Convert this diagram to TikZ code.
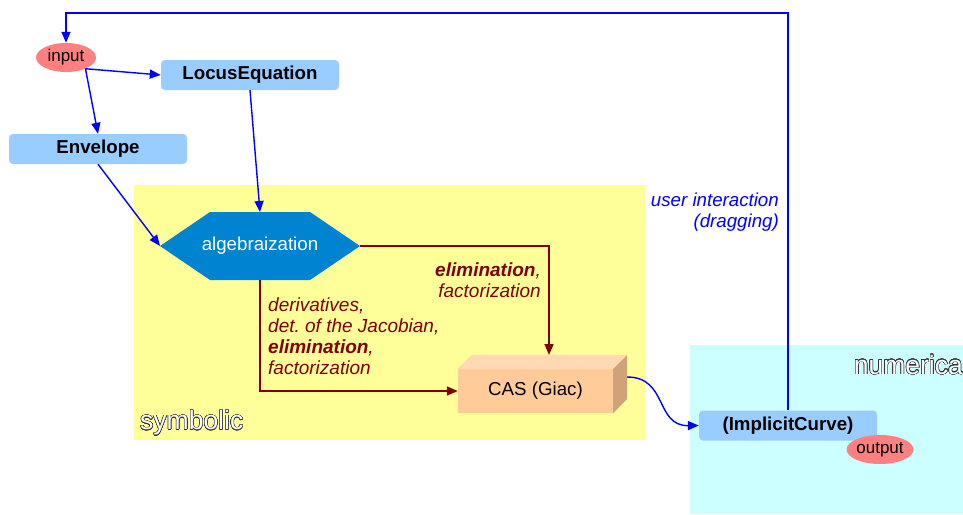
\documentclass[tikz,border=0pt]{standalone}
\usepackage{fontspec}
\setmainfont{Liberation Sans}
\usepackage{contour}
\contourlength{0.5pt}
\contournumber{24}
\usetikzlibrary{arrows.meta,shapes.geometric}
\definecolor{boxblue}{HTML}{99CCFF}
\definecolor{iored}{HTML}{FF8080}
\definecolor{symyellow}{HTML}{FFFF99}
\definecolor{numcyan}{HTML}{CCFFFF}
\definecolor{hexblue}{HTML}{0084D1}
\definecolor{darkred}{HTML}{800000}
\definecolor{casfront}{HTML}{FFCC99}
\definecolor{castop}{HTML}{FFD9B3}
\definecolor{casside}{HTML}{CFA27A}
\definecolor{outlinegray}{HTML}{333333}
\frenchspacing
\begin{document}
\begin{tikzpicture}[x=1pt,y=-1pt,
  blueline/.style={draw=blue, line width=1.4pt, -{Triangle[length=11pt,width=9pt]}},
  redline/.style={draw=darkred, line width=1.6pt, -{Triangle[length=11pt,width=9pt]}},
  procbox/.style={fill=boxblue, rounded corners=4pt, minimum width=178pt, minimum height=30pt, inner sep=0pt, font=\fontsize{18.7}{22}\selectfont\bfseries},
  iobox/.style={ellipse, fill=iored, minimum width=60pt, minimum height=29pt, inner sep=0pt, font=\fontsize{17}{20}\selectfont},
  redlabel/.style={text=darkred, font=\fontsize{19}{21}\selectfont\itshape, inner sep=0pt},
  bluelabel/.style={text=blue, font=\fontsize{18.7}{21}\selectfont\itshape, inner sep=0pt},
  regionlabel/.style={font=\fontsize{26.5}{30}\selectfont, inner sep=0pt}
]
\useasboundingbox (0,0) rectangle (963,514);
\fill[white] (0,0) rectangle (963,514);
% regions
\fill[symyellow] (134,185) rectangle (645,440);
\fill[numcyan] (690,345) rectangle (963,514);
\node[regionlabel, anchor=west] (symlab) at (140,423) {\contour{outlinegray}{\textcolor{white}{symbolic}}};
\node[regionlabel, anchor=east] (numlab) at (963,365) {\contour{outlinegray}{\textcolor{white}{numerica}}};

% nodes
\node[iobox] (input) at (66,57.5) {input};
\node[procbox] (locus) at (250,75) {LocusEquation};
\node[procbox] (envelope) at (98,149) {Envelope};

% hexagon
\fill[hexblue] (160,246) -- (210,212) -- (310,212) -- (360,246) -- (310,280) -- (210,280) -- cycle;
\node[text=white, font=\fontsize{18.7}{22}\selectfont, inner sep=0pt] (alg) at (260,246) {algebraization};
\coordinate (algW) at (160,246);
\coordinate (algE) at (360,246);
\coordinate (algN) at (260,212);
\coordinate (algS) at (260,280);

% CAS box
\node[fill=casfront, minimum width=155pt, minimum height=44pt, inner sep=0pt, font=\fontsize{18.7}{22}\selectfont] (cas) at (535.5,391) {CAS (Giac)};
\fill[castop] (cas.north west) -- ++(14,-14) -- ++(155,0) -- (cas.north east) -- cycle;
\fill[casside] (cas.north east) -- ++(14,-14) -- ++(0,44) -- (cas.south east) -- cycle;
\coordinate (casTop) at (549,355);
\coordinate (casR) at (627,377);

\node[procbox] (impl) at (788,425.5) {(ImplicitCurve)};
\node[iobox] (output) at (880,449.5) {output};

% connectors
\coordinate (inp) at (input.-30);
\draw[blueline] (inp) -- (locus.west);
\draw[blueline] (inp) -- (envelope.north);
\draw[blueline] (locus.south) -- (algN);
\draw[blueline] (envelope.south) -- (algW);
\coordinate (fbTop) at (788,13);
\coordinate (fbLeft) at (66,13);
\draw[blueline] (impl.north) -- (fbTop) -- (fbLeft) -- (input.north);
\draw[blueline] (casR) .. controls (668,377) and (655,426) .. (impl.west);
\draw[redline] (algE) -| (casTop);
\draw[redline] (algS) |- (cas.west);

% labels
\node[redlabel, anchor=east, align=right] (lab1) at (541,280) {\textbf{elimination},\\factorization};
\node[redlabel, anchor=west, align=left] (lab2) at (268,336) {derivatives,\\det. of the Jacobian,\\\textbf{elimination},\\factorization};
\node[bluelabel, anchor=east, align=right] (lab3) at (779,212.5) {user interaction\\(dragging)};
\end{tikzpicture}
\end{document}
